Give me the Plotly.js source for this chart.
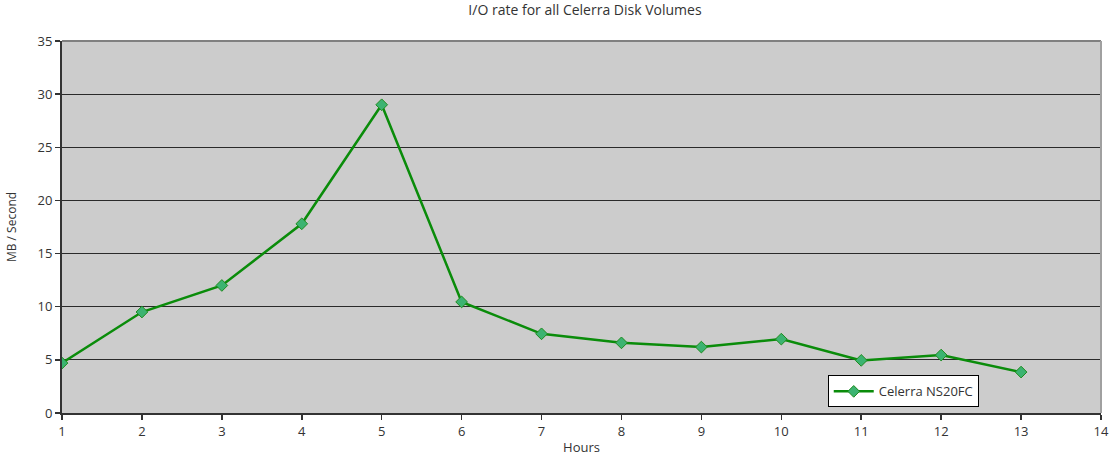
<!DOCTYPE html>
<html>
<head>
<meta charset="utf-8">
<script src="https://cdn.plot.ly/plotly-3.0.1.min.js"></script>
<style>html,body{margin:0;padding:0;background:#fff}#chart{width:1110px;height:456px}</style>
</head>
<body>
<div id="chart"></div>
<script>
var hours = [1, 2, 3, 4, 5, 6, 7, 8, 9, 10, 11, 12, 13];
var mbPerSecond = [4.7, 9.5, 12.0, 17.8, 29.0, 10.45, 7.45, 6.6, 6.2, 6.95, 4.95, 5.45, 3.85];
var seriesName = "Celerra NS20FC";
var yTicks = [0, 5, 10, 15, 20, 25, 30, 35];
var xTicks = [1, 2, 3, 4, 5, 6, 7, 8, 9, 10, 11, 12, 13, 14];

var fontFam = "'Open Sans', 'DejaVu Sans', sans-serif";
var trace = {
  x: hours, y: mbPerSecond, name: seriesName, type: 'scatter', mode: 'lines+markers',
  line: {color: '#0a8c0a', width: 2.5},
  marker: {symbol: 'diamond', size: 9, color: '#3cb371', line: {color: '#1e8c1e', width: 1}}
};
var layout = {
  width: 1110, height: 456,
  margin: {l: 62, r: 9, t: 41, b: 43},
  paper_bgcolor: '#ffffff', plot_bgcolor: '#cccccc',
  font: {family: fontFam, size: 13, color: '#333'},
  title: {text: 'I/O rate for all Celerra Disk Volumes', x: 0.527, xanchor: 'center', y: 0.988, yanchor: 'top', font: {size: 14, color: '#333', family: fontFam}},
  xaxis: {
    range: [1, 14], tickvals: xTicks, ticks: 'outside', ticklen: 5, tickcolor: '#333', tickwidth: 1.5,
    showgrid: false, zeroline: false, showline: true, linecolor: '#333', linewidth: 2,
    tickfont: {size: 13, color: '#333'},
    title: {text: 'Hours', font: {size: 13, color: '#333'}, standoff: 6}
  },
  yaxis: {
    range: [0, 35], tickvals: yTicks, ticks: 'outside', ticklen: 5, tickcolor: '#333', tickwidth: 1.5,
    showgrid: true, gridcolor: '#2a2a2a', gridwidth: 1, zeroline: false, showline: true, linecolor: '#333', linewidth: 2,
    tickfont: {size: 13, color: '#333'},
    title: {text: 'MB / Second', font: {size: 12, color: '#333'}, standoff: 18}
  },
  showlegend: true,
  legend: {x: 0.737, y: 0.015, xanchor: 'left', yanchor: 'bottom', bgcolor: '#ffffff', bordercolor: '#000', borderwidth: 1,
    font: {size: 13, color: '#333'}, itemwidth: 40, tracegroupgap: 0},
  shapes: [
    {type: 'line', xref: 'paper', yref: 'paper', x0: 0, x1: 1, y0: 1, y1: 1, line: {color: '#808080', width: 2}},
    {type: 'line', xref: 'paper', yref: 'paper', x0: 1, x1: 1, y0: 0, y1: 1, line: {color: '#a0a0a0', width: 2}}
  ]
};
Plotly.newPlot('chart', [trace], layout, {displayModeBar: false, staticPlot: true});
</script>
</body>
</html>
